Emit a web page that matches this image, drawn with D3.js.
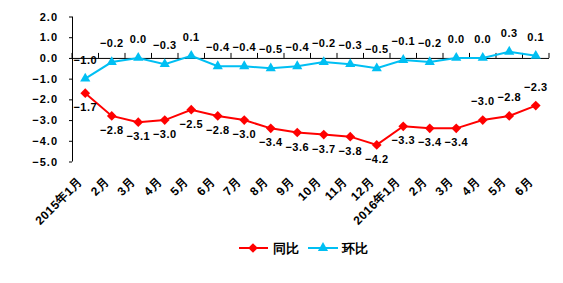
<!DOCTYPE html>
<html><head><meta charset="utf-8">
<script src="https://cdn.jsdelivr.net/npm/d3@7/dist/d3.min.js"></script>
<style>body{margin:0;background:#fff}</style>
</head><body><svg id="c" width="563" height="283"></svg>
<script>
const categories = ["2015年1月","2月","3月","4月","5月","6月","7月","8月","9月","10月","11月","12月","2016年1月","2月","3月","4月","5月","6月"];
const yoy = [-1.7,-2.8,-3.1,-3.0,-2.5,-2.8,-3.0,-3.4,-3.6,-3.7,-3.8,-4.2,-3.3,-3.4,-3.4,-3.0,-2.8,-2.3];
const mom = [-1.0,-0.2,0.0,-0.3,0.1,-0.4,-0.4,-0.5,-0.4,-0.2,-0.3,-0.5,-0.1,-0.2,0.0,0.0,0.3,0.1];
const yTicks = [2,1,0,-1,-2,-3,-4,-5];
const seriesNames = ["同比","环比"];
const yoyAbove = [false,false,false,false,false,false,false,false,false,false,false,false,false,false,false,true,true,true];

const RED = "#FF0000", BLUE = "#00BFF3";
const FONT = "'Liberation Sans', Arial, sans-serif";
const svg = d3.select("#c");
const x = d3.scaleBand().domain(categories.map((d,i)=>i)).range([72,549]);
const y = d3.scaleLinear().domain([-5,2]).range([161.5,16.5]);
const cx = i => x(i) + x.bandwidth()/2;

// y axis
const ya = svg.append("g").attr("transform","translate(72,0)")
  .call(d3.axisLeft(y).tickValues(yTicks).tickSize(3).tickFormat(d3.format(".1f")));
ya.select(".domain").attr("stroke","#000").attr("d","M0.5,16.5V161.5");
ya.selectAll(".tick line").attr("stroke","#000");
ya.selectAll("text").attr("font-family",FONT).attr("font-weight","bold").attr("font-size",11)
  .attr("letter-spacing",1).attr("fill","#000").attr("x",-14);

// x axis at 0
const xa = svg.append("g").attr("transform",`translate(0,${y(0)})`)
  .call(d3.axisTop(x).tickSize(5).tickFormat(""));
xa.select(".domain").attr("stroke","#000").attr("d","M72,0.5H549");
xa.selectAll(".tick line").attr("stroke","#000").attr("transform",`translate(${-x.bandwidth()/2},0)`);
svg.append("line").attr("x1",549).attr("x2",549).attr("y1",y(0)-5).attr("y2",y(0)).attr("stroke","#000");

// x labels
svg.append("g").selectAll("text").data(categories).join("text")
  .attr("transform",(d,i)=>`translate(${cx(i)-2},${y(-5)+21}) rotate(-45)`)
  .attr("text-anchor","end")
  .attr("font-family",FONT).attr("font-weight","bold").attr("font-size",12).attr("letter-spacing",0.5).attr("fill","#000")
  .text(d=>d);

const line = d3.line().x((d,i)=>cx(i)).y(d=>y(d));
svg.append("path").datum(yoy).attr("d",line).attr("fill","none").attr("stroke",RED).attr("stroke-width",2);
svg.append("path").datum(mom).attr("d",line).attr("fill","none").attr("stroke",BLUE).attr("stroke-width",2);

const diamond = d3.symbol().type(d3.symbolDiamond2).size(60);
const tri = d3.symbol().type(d3.symbolTriangle).size(45);
svg.append("g").selectAll("path").data(yoy).join("path")
  .attr("d",diamond).attr("transform",(d,i)=>`translate(${cx(i)},${y(d)})`).attr("fill",RED);
svg.append("g").selectAll("path").data(mom).join("path")
  .attr("d",tri).attr("transform",(d,i)=>`translate(${cx(i)},${y(d)})`).attr("fill",BLUE);

// labels
const fmt = d3.format(".1f");
svg.append("g").selectAll("text").data(yoy).join("text")
  .attr("x",(d,i)=>cx(i)).attr("y",(d,i)=>yoyAbove[i] ? y(d)-15 : y(d)+18)
  .attr("text-anchor","middle").attr("font-family",FONT).attr("font-weight","bold").attr("font-size",11).attr("letter-spacing",0.5)
  .text(d=>fmt(d));
svg.append("g").selectAll("text").data(mom).join("text")
  .attr("x",(d,i)=>cx(i)).attr("y",d=>y(d)-15)
  .attr("text-anchor","middle").attr("font-family",FONT).attr("font-weight","bold").attr("font-size",11).attr("letter-spacing",0.5)
  .text(d=>fmt(d));

// legend
const lg = svg.append("g").attr("font-family",FONT).attr("font-weight","bold").attr("font-size",13);
lg.append("line").attr("x1",239).attr("x2",268).attr("y1",248).attr("y2",248).attr("stroke",RED).attr("stroke-width",2);
lg.append("path").attr("d",diamond).attr("transform","translate(253,248)").attr("fill",RED);
lg.append("text").attr("x",273).attr("y",253).text(seriesNames[0]);
lg.append("line").attr("x1",308).attr("x2",338).attr("y1",248).attr("y2",248).attr("stroke",BLUE).attr("stroke-width",2);
lg.append("path").attr("d",tri).attr("transform","translate(323,248)").attr("fill",BLUE);
lg.append("text").attr("x",342).attr("y",253).text(seriesNames[1]);
</script></body></html>
